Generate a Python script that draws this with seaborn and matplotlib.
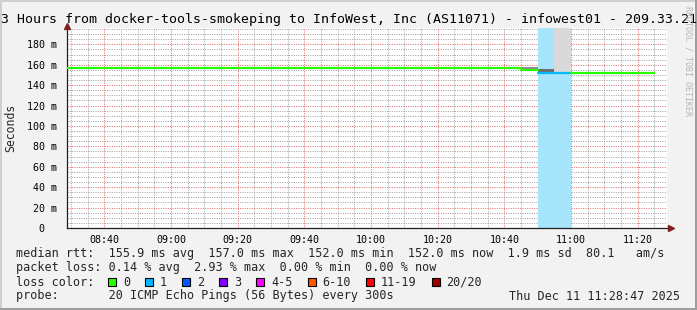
import matplotlib
matplotlib.use("Agg")
import numpy as np
import pandas as pd
import matplotlib.pyplot as plt
import matplotlib.dates as mdates
import matplotlib.transforms as mtransforms
from matplotlib.patches import Rectangle
import seaborn as sns

# ---------------- data ----------------
title = "3 Hours from docker-tools-smokeping to InfoWest, Inc (AS11071) - infowest01 - 209.33.21"
interval_start = pd.date_range("2025-12-11 08:25", "2025-12-11 11:20", freq="5min")
median_ms = [157.0, 157.0, 157.0, 157.0, 157.0, 157.0, 157.0,
             157.0, 157.0, 156.6, 157.0, 156.6, 157.0, 157.0, 157.0, 157.0, 157.0, 157.0, 157.0,
             157.0, 156.6, 157.0, 157.0, 157.0, 157.0, 157.0, 157.0, 157.0, 155.0, 152.0, 152.0,
             152.0, 152.0, 152.0, 152.0, 152.0]
loss_count = [0, 0, 0, 0, 0, 0, 0,
              0, 0, 0, 0, 0, 0, 0, 0, 0, 0, 0, 0,
              0, 0, 0, 0, 0, 0, 0, 0, 0, 0, 1, 1,
              0, 0, 0, 0, 0]
data_end = pd.Timestamp("2025-12-11 11:25")

# smoke (spread of the pings) where it is visible
smoke_start = pd.to_datetime(["2025-12-11 10:45", "2025-12-11 10:50", "2025-12-11 10:55"])
smoke_low = [155.0, 152.5, 152.5]
smoke_high = [157.6, 155.9, 200.0]
smoke_colors = ["#8c8c8c", "#6e6e6e", "#d9d9d9"]

# loss background
loss_bg_start = pd.Timestamp("2025-12-11 10:50")
loss_bg_end = pd.Timestamp("2025-12-11 11:00")

loss_labels = ["0", "1", "2", "3", "4-5", "6-10", "11-19", "20/20"]
loss_palette = ["#26ff00", "#00b8ff", "#0059ff", "#7e00ff", "#ff00ff", "#ff5500", "#ff0000", "#a10000"]

yticks = [0, 20, 40, 60, 80, 100, 120, 140, 160, 180]
view_start = pd.Timestamp("2025-12-11 08:28:47")
view_end = pd.Timestamp("2025-12-11 11:28:47")

legend_lines = [
    "median rtt:  155.9 ms avg  157.0 ms max  152.0 ms min  152.0 ms now  1.9 ms sd  80.1   am/s",
    "packet loss: 0.14 % avg  2.93 % max  0.00 % min  0.00 % now",
]
loss_row_label = "loss color:"
probe_line = "probe:       20 ICMP Echo Pings (56 Bytes) every 300s"
stamp = "Thu Dec 11 11:28:47 2025"
watermark = "RRDTOOL / TOBI OETIKER"

# ---------------- style ----------------
sns.set_style("white")
plt.rcParams["font.family"] = ["DejaVu Sans Mono", "DejaVu Sans"]

W, H = 697, 310
BG = "#f2f2f2"
fig = plt.figure(figsize=(W / 100, H / 100), dpi=100, facecolor=BG)

def fx(x):
    return x / W

def fy(y):
    return 1 - y / H

# plot area 67..667 x 28..228
ax = fig.add_axes([fx(67), fy(228), 600 / W, 200 / H])
ax.set_facecolor("white")

# loss background
ax.axvspan(loss_bg_start, loss_bg_end, color="#a6e5fb", zorder=1, lw=0)

# smoke
for s, lo, hi, c in zip(smoke_start, smoke_low, smoke_high, smoke_colors):
    ax.fill_between([s, s + pd.Timedelta("5min")], [lo, lo], [hi, hi], color=c, lw=0, zorder=2)

# median line, coloured by loss, drawn as runs of steps
df = pd.DataFrame({"t": interval_start, "ms": median_ms, "loss": loss_count})
run_id = (df["loss"] != df["loss"].shift()).cumsum()
for _, run in df.groupby(run_id):
    nxt = run.index[-1] + 1
    end_t = df["t"].iloc[nxt] if nxt < len(df) else data_end
    xs = list(run["t"]) + [end_t]
    ys = list(run["ms"]) + [run["ms"].iloc[-1]]
    lc = loss_palette[int(run["loss"].iloc[0])]
    sns.lineplot(x=xs, y=ys, ax=ax, color=lc, lw=1.6, drawstyle="steps-post",
                 estimator=None, zorder=3)

ax.set_xlim(view_start, view_end)
ax.set_ylim(0, 196)
ax.set_xlabel("")
ax.set_ylabel("")

# ticks / grid
ax.xaxis.set_major_locator(mdates.MinuteLocator(byminute=[0, 20, 40]))
ax.xaxis.set_minor_locator(mdates.MinuteLocator(byminute=range(0, 60, 5)))
ax.xaxis.set_major_formatter(mdates.DateFormatter("%H:%M"))
ax.set_yticks(yticks)
ax.set_yticks(np.arange(0, 196, 5), minor=True)
ax.set_yticklabels(["0  " if v == 0 else f"{v} m" for v in yticks])

ax.set_axisbelow(True)
ax.grid(which="minor", color=(0.56, 0.56, 0.56, 0.42), lw=0.6, ls=(0, (1.2, 1.6)))
ax.grid(which="major", color=(0.87, 0.31, 0.31, 0.42), lw=0.6, ls=(0, (1.2, 1.6)))

ax.tick_params(axis="both", which="major", labelsize=7.2, colors="#1f1f1f",
               length=2, width=0.72, pad=3, labelcolor="black")
ax.tick_params(axis="both", which="minor", length=0)
ax.tick_params(axis="y", pad=5)

for side in ["top", "right"]:
    ax.spines[side].set_visible(False)
for side in ["left", "bottom"]:
    ax.spines[side].set_color("#1f1f1f")
    ax.spines[side].set_linewidth(0.9)

# arrows
arrow_c = (0.5, 0.12, 0.12)
up = ax.transAxes + mtransforms.ScaledTranslation(0, 2.5 / 100, fig.dpi_scale_trans)
ax.plot([0], [1], marker="^", ms=5, color=arrow_c, transform=up, clip_on=False, zorder=5)
rt = ax.transAxes + mtransforms.ScaledTranslation(4 / 100, 0, fig.dpi_scale_trans)
ax.plot([1], [0], marker=">", ms=5, color=arrow_c, transform=rt, clip_on=False, zorder=5)

# title and labels
fig.text(fx(1), fy(19), title, fontsize=9.5, ha="left", va="center", color="black")
fig.text(fx(11), fy(128), "Seconds", fontsize=8.3, rotation=90, ha="center", va="center")
fig.text(fx(688), fy(6), watermark, fontsize=6, rotation=-90, ha="center", va="top",
         color="#b5b5b5")

# legend
LEG_FS = 8.5
fig.text(fx(16), fy(254), legend_lines[0], fontsize=LEG_FS, va="center")
fig.text(fx(16), fy(268), legend_lines[1], fontsize=LEG_FS, va="center")
fig.text(fx(16), fy(282), loss_row_label, fontsize=LEG_FS, va="center")
fig.text(fx(16), fy(296), probe_line, fontsize=LEG_FS, va="center")
fig.text(fx(680), fy(296), stamp, fontsize=LEG_FS, va="center", ha="right")

char_w = 7.1
sq_x = 108.0
for lab, col in zip(loss_labels, loss_palette):
    fig.patches.append(Rectangle((fx(sq_x), fy(286)), 8 / W, 8 / H, transform=fig.transFigure,
                                 facecolor=col, edgecolor="black", lw=0.8))
    fig.text(fx(sq_x + 15), fy(282), lab, fontsize=LEG_FS, va="center")
    sq_x += 15 + char_w * len(lab) + 15

# 3D frame
fig.patches.append(Rectangle((0, fy(2)), 1, 2 / H, transform=fig.transFigure, color="#cfcfcf", lw=0))
fig.patches.append(Rectangle((0, 0), 2 / W, 1, transform=fig.transFigure, color="#cfcfcf", lw=0))
fig.patches.append(Rectangle((0, 0), 1, 2 / H, transform=fig.transFigure, color="#9e9e9e", lw=0))
fig.patches.append(Rectangle((fx(695), 0), 2 / W, 1, transform=fig.transFigure, color="#9e9e9e", lw=0))

fig.savefig("out.png", dpi=100, facecolor=BG)
